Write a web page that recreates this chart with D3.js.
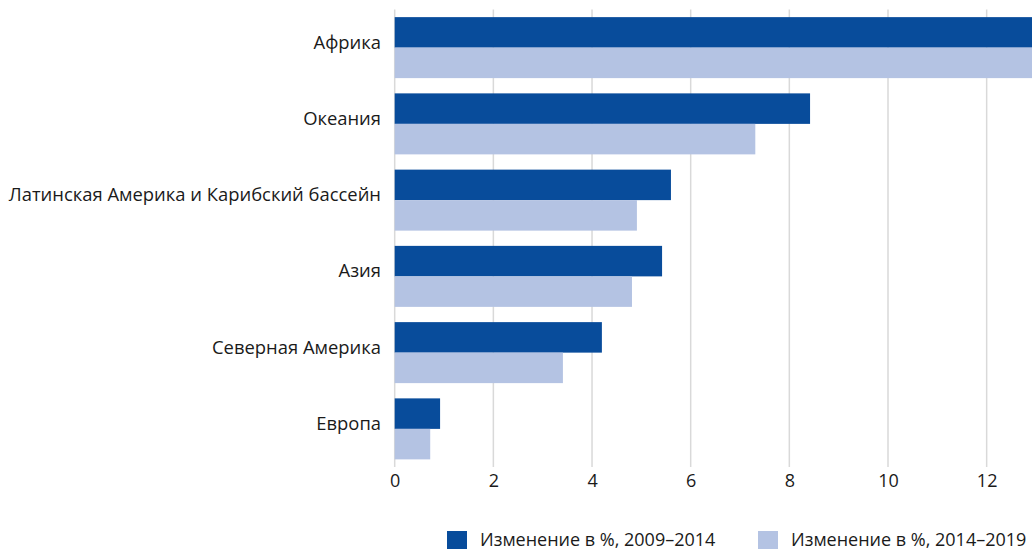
<!DOCTYPE html>
<html><head><meta charset="utf-8">
<script src="https://cdn.jsdelivr.net/npm/d3@7"></script>
<style>
html,body{margin:0;padding:0;background:#fff;}
svg text{font-family:"Open Sans",sans-serif;fill:#1a1a1a;}
</style></head>
<body>
<svg id="chart" width="1032" height="551"></svg>
<script>
const categories = ["Африка","Океания","Латинская Америка и Карибский бассейн","Азия","Северная Америка","Европа"];
const series1Name = "Изменение в %, 2009–2014";
const series2Name = "Изменение в %, 2014–2019";
const series1 = [14.2, 8.42, 5.6, 5.42, 4.2, 0.92];
const series2 = [13.6, 7.31, 4.91, 4.81, 3.41, 0.72];
const tickValues = [0, 2, 4, 6, 8, 10, 12];
const colors = ["#084c9b", "#b4c3e3"];

const svg = d3.select("#chart");
const W = 1032, H = 551;
const x0 = 394.7, pxPerUnit = 49.33;
const x = d3.scaleLinear().domain([0, 12]).range([x0, x0 + 12 * pxPerUnit]);
const y = d3.scaleBand().domain(categories).range([9.5, 467]).paddingInner(0.2).paddingOuter(0.1);
const sub = d3.scaleBand().domain([0, 1]).range([0, y.bandwidth()]);

svg.append("defs").append("clipPath").attr("id", "clip")
  .append("rect").attr("x", 0).attr("y", 0).attr("width", W).attr("height", H);

// gridlines
svg.append("g").selectAll("line").data(tickValues).join("line")
  .attr("x1", d => x(d)).attr("x2", d => x(d))
  .attr("y1", 9.5).attr("y2", 467)
  .attr("stroke", "#d9d9d9").attr("stroke-width", 1.5);

// bars
const data = categories.map((c, i) => ({c, v: [series1[i], series2[i]]}));
const g = svg.append("g").attr("clip-path", "url(#clip)");
g.selectAll("g").data(data).join("g")
  .attr("transform", d => `translate(0,${y(d.c)})`)
  .selectAll("rect").data(d => d.v.map((v, k) => ({v, k}))).join("rect")
  .attr("x", x(0)).attr("y", d => sub(d.k))
  .attr("width", d => x(d.v) - x(0)).attr("height", sub.bandwidth())
  .attr("fill", d => colors[d.k]);

// category labels
svg.append("g").selectAll("text").data(categories).join("text")
  .attr("x", 381).attr("y", d => y(d) + y.bandwidth() / 2 + 1)
  .attr("text-anchor", "end")
  .attr("font-size", 18.4).text(d => d);

// x tick labels
const xAxis = d3.axisBottom(x).tickValues(tickValues).tickSize(0).tickPadding(0);
const ax = svg.append("g").attr("transform", "translate(0,487)").call(xAxis);
ax.select(".domain").remove();
ax.selectAll("text").attr("font-size", 18).attr("fill", "#1a1a1a").attr("dy", "0")
  .style("font-family", "'Open Sans',sans-serif");

// legend
const legend = [{name: series1Name, color: colors[0], x: 447}, {name: series2Name, color: colors[1], x: 758}];
const lg = svg.append("g").selectAll("g").data(legend).join("g")
  .attr("transform", d => `translate(${d.x},531)`);
lg.append("rect").attr("width", 20).attr("height", 18).attr("fill", d => d.color);
lg.append("text").attr("x", 33).attr("y", 14.5)
  .attr("font-size", 18).text(d => d.name);
</script>
</body></html>
